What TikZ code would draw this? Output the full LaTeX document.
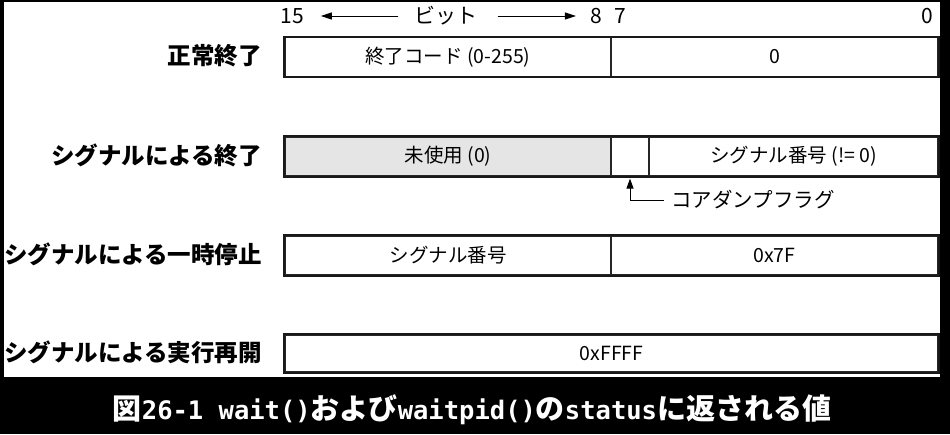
\documentclass[tikz,border=0pt]{standalone}
\usepackage{fontspec}
\setmainfont{Noto Sans CJK JP}
\newfontfamily\capmono{DejaVu Sans Mono}
\usetikzlibrary{arrows.meta}
\newcommand{\cmono}[1]{{\capmono\fontsize{25.5}{28}\selectfont #1}}
\tikzset{
  cell/.style={draw=black!85, line width=1.2pt, minimum height=39pt, inner sep=0pt, font=\fontsize{19.5}{22}\selectfont},
  rowlabel/.style={anchor=east, inner sep=0pt, font=\bfseries\fontsize{23.5}{26}\selectfont},
  bitnum/.style={inner sep=0pt, font=\fontsize{21}{24}\selectfont},
  outer/.style={draw=black!90, line width=2pt},
  hdrarrow/.style={-{Triangle[length=11pt,width=7pt]}, line width=1pt},
}
\begin{document}
\begin{tikzpicture}[x=1pt,y=-1pt]
\useasboundingbox (0,0) rectangle (950,434);
\fill[black] (0,0) rectangle (950,434);
\fill[white] (4,2) rectangle (940,377);

% header
\node[bitnum] (n15) at (292,16) {15};
\node[bitnum] (bit) at (446,16) {ビット};
\node[bitnum] (n8) at (596,16) {8};
\node[bitnum] (n7) at (620,16) {7};
\node[bitnum] (n0) at (927,16) {0};
\draw[hdrarrow, shorten <=16pt, shorten >=17pt] (bit.west) -- (n15.east);
\draw[hdrarrow, shorten <=20pt, shorten >=14pt] (bit.east) -- (n8.west);

% row 1
\node[rowlabel] (l1) at (262,56) {正常終了};
\node[cell, minimum width=326pt] (r1a) at (448,57) {終了コード (0-255)};
\node[cell, minimum width=327pt] (r1b) at (774.5,57) {0};
\draw[outer] (r1a.north west) rectangle (r1b.south east);

% row 2
\node[rowlabel] (l2) at (262,155.5) {シグナルによる終了};
\node[cell, fill=black!10, minimum width=326pt] (r2a) at (448,156.5) {未使用 (0)};
\node[cell, minimum width=38pt] (r2c) at (630,156.5) {};
\node[cell, minimum width=289pt] (r2b) at (793.5,156.5) {シグナル番号 (!= 0)};
\draw[outer] (r2a.north west) rectangle (r2b.south east);
\node[anchor=west, inner sep=0pt, font=\fontsize{20.5}{24}\selectfont] (cdf) at (671,200) {コアダンプフラグ};
\draw[-{Triangle[length=10pt,width=7pt]}, line width=1pt, shorten <=7pt, shorten >=2pt] (cdf.west) -| (r2c.south);

% row 3
\node[rowlabel] (l3) at (262,254.5) {シグナルによる一時停止};
\node[cell, minimum width=326pt] (r3a) at (448,255.5) {シグナル番号};
\node[cell, minimum width=327pt] (r3b) at (774.5,255.5) {0x7F};
\draw[outer] (r3a.north west) rectangle (r3b.south east);

% row 4
\node[rowlabel] (l4) at (262,352.5) {シグナルによる実行再開};
\node[cell, minimum width=653pt, minimum height=37pt] (r4) at (611.5,353.5) {0xFFFF};
\draw[outer] (r4.north west) rectangle (r4.south east);

% caption
\node[text=white, inner sep=0pt, font=\bfseries\fontsize{29}{31}\selectfont] (cap) at (472,410)
  {図\cmono{26-1 wait()}および\cmono{waitpid()}の\cmono{status}に返される値};
\end{tikzpicture}
\end{document}
